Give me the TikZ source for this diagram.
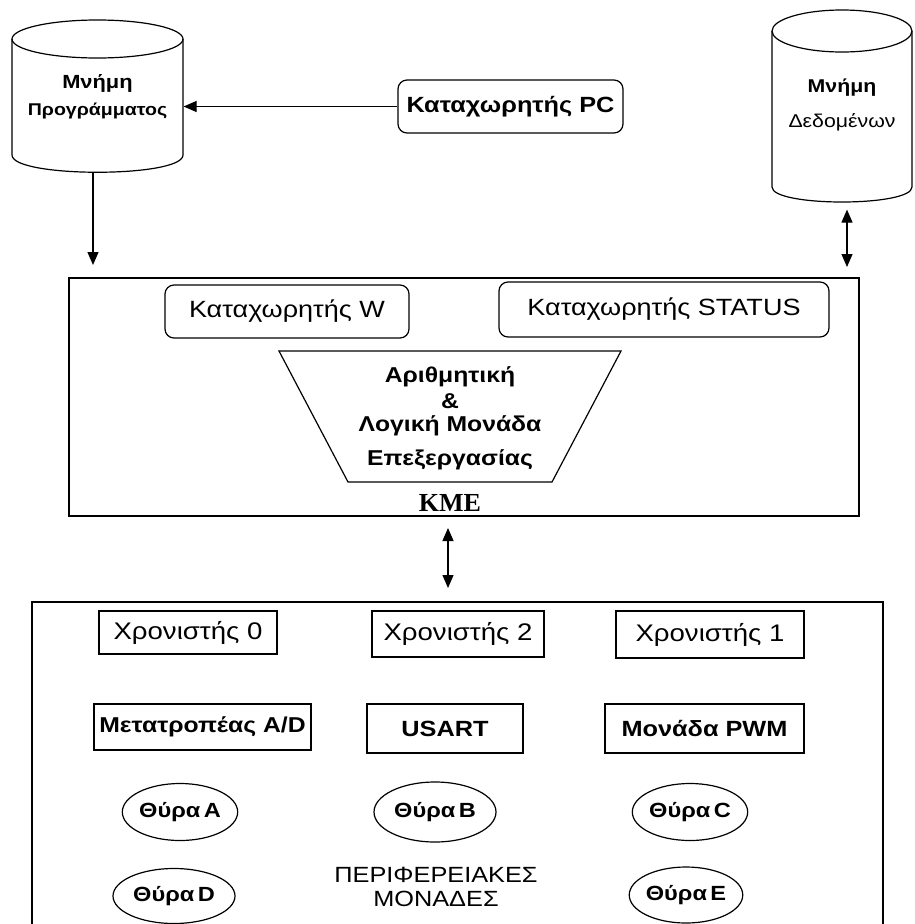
\documentclass[tikz,border=0pt]{standalone}
\usepackage{fontspec}
\setmainfont{Liberation Sans}
\newfontfamily\ls[FakeStretch=1.15]{Liberation Sans}
\newfontfamily\lserif{Liberation Serif}
\usetikzlibrary{arrows.meta,shapes.geometric}
\newcommand{\fsz}[1]{\fontsize{#1}{27}\selectfont}
\begin{document}
\begin{tikzpicture}[x=1pt,y=-1pt, line width=1.2pt,
 box/.style={draw, rectangle, inner sep=0pt},
 rbox/.style={draw, rounded corners=9pt, inner sep=0pt},
 oval/.style={draw, ellipse, inner sep=0pt},
 txt/.style={font=\ls\fsz{#1}},
 txt/.default=23,
 btxt/.style={font=\ls\bfseries\fsz{#1}},
 btxt/.default=21,
 tip/.tip={Triangle[length=13pt,width=11pt]},
 arr/.style={-tip},
 darr/.style={tip-tip}]
\useasboundingbox (0,0) rectangle (914,924);
\fill[white] (0,0) rectangle (914,924);

% Program memory cylinder
\draw (12,39) -- (12,155) .. controls (12,178) and (183,178) .. (183,155) -- (183,39);
\draw (97.5,39) ellipse[x radius=85.5,y radius=19];
\node[btxt=19, align=center, minimum width=171, minimum height=150, inner sep=0pt] (pm) at (97.5,97) {Μνήμη\\{\fsz{17}Προγράμματος}};

% Data memory cylinder
\draw (772,31) -- (772,187) .. controls (772,207) and (912,207) .. (912,187) -- (912,31);
\draw (842,31) ellipse[x radius=70,y radius=21];
\node[txt=18.5, align=center, minimum width=140, minimum height=208, inner sep=0pt] (dm) at (842,105) {{\bfseries Μνήμη}\\[8pt]Δεδομένων};

% PC register
\node[rbox, btxt=22, minimum width=225, minimum height=53] (pc) at (510.5,106.5) {Καταχωρητής PC};

% CPU
\node[box, minimum width=790, minimum height=238] (cpu) at (464,397) {};
\node[rbox, txt=23.5, minimum width=244, minimum height=53] (w) at (287,311.5) {Καταχωρητής W};
\node[rbox, txt=23.5, minimum width=330, minimum height=55] (st) at (664,309.5) {Καταχωρητής STATUS};
\draw (279,351) -- (621,351) -- (552,482) -- (348,482) -- cycle;
\node[btxt=21.5, align=center] (alu) at (450,418) {Αριθμητική\\[-1pt]\&\\[-4pt]Λογική Μονάδα\\[7pt]Επεξεργασίας};
\node[font=\lserif\bfseries\fontsize{26}{26}\selectfont, inner sep=0pt] (kme) at (450,503) {ΚΜΕ};

% connectors
\coordinate (pmout) at (93,265);
\draw[arr] (pm.south -| pmout) -- (pmout);
\draw[arr] (pc.west) -- (pc.west -| pm.east);
\coordinate (dmout) at (847,267);
\draw[darr] (dm.south -| dmout) -- (dmout);
\coordinate (k1) at (448,528);
\coordinate (k2) at (448,588);
\draw[darr] (k1) -- (k2);

% Peripherals
\draw (32,924) |- (883,602) -- (883,924);
\node[box, txt=24, minimum width=178, minimum height=43] (t0) at (188,632.5) {Χρονιστής 0};
\node[box, txt=24, minimum width=172, minimum height=46] (t2) at (458,634) {Χρονιστής 2};
\node[box, txt=24, minimum width=188, minimum height=47] (t1) at (710,634.5) {Χρονιστής 1};
\node[box, btxt=21.5, minimum width=217, minimum height=46] (ad) at (202.5,727) {Μετατροπέας A/D};
\node[box, btxt=22, minimum width=156, minimum height=49] (us) at (445,728.5) {USART};
\node[box, btxt=22, minimum width=199, minimum height=49] (pwm) at (704.5,728.5) {Μονάδα PWM};
\node[oval, btxt=20.5, minimum width=114, minimum height=57] (pa) at (180,812) {Θύρα\,A};
\node[oval, btxt=20.5, minimum width=122, minimum height=60] (pb) at (435,812) {Θύρα\,B};
\node[oval, btxt=20.5, minimum width=115, minimum height=57] (pcc) at (690,812) {Θύρα\,C};
\node[oval, btxt=20.5, minimum width=122, minimum height=55] (pd) at (174,896) {Θύρα\,D};
\node[oval, btxt=20.5, minimum width=113, minimum height=56] (pe) at (686,895) {Θύρα\,E};
\node[txt=22, align=center] (perl) at (436,887) {ΠΕΡΙΦΕΡΕΙΑΚΕΣ\\[-3pt]ΜΟΝΑΔΕΣ};
\end{tikzpicture}
\end{document}
